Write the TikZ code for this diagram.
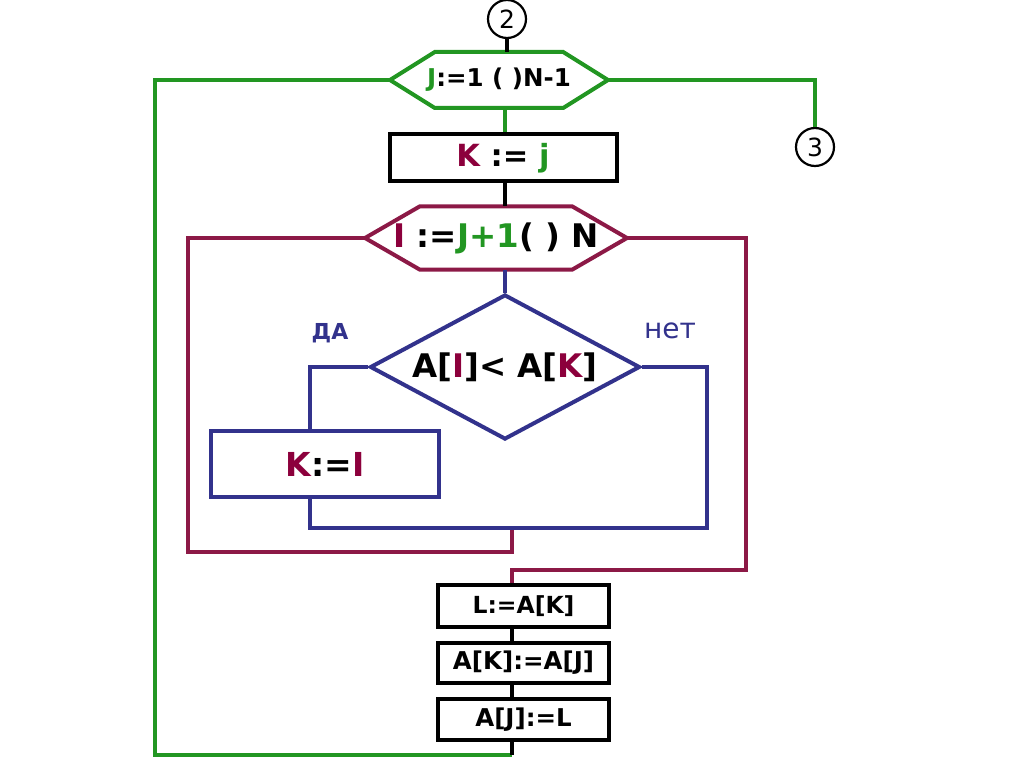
\documentclass[tikz,border=0pt]{standalone}
\usepackage{fontspec}
\setmainfont{DejaVu Sans}
\usetikzlibrary{shapes.geometric, shapes.symbols, calc}
\definecolor{loopgreen}{RGB}{34,150,34}
\definecolor{loopmaroon}{RGB}{140,25,70}
\definecolor{loopnavy}{RGB}{50,50,140}
\definecolor{varred}{RGB}{140,0,60}
\newcommand{\vK}{\textcolor{varred}{K}}
\newcommand{\vI}{\textcolor{varred}{I}}

\begin{document}
\begin{tikzpicture}[x=1pt, y=-1pt,
  hexloop/.style={signal, signal to=west and east, line width=4pt,
                  inner sep=0pt, outer sep=0pt, fill=white},
  assign/.style={rectangle, draw=black, line width=4pt, inner sep=0pt},
  conn/.style={circle, draw=black, line width=2.2pt, minimum size=38pt,
               inner sep=0pt, font=\fontsize{25}{27}\selectfont},
  gline/.style={loopgreen, line width=3.5pt},
  mline/.style={loopmaroon, line width=3.5pt},
  bline/.style={loopnavy, line width=3.5pt},
  kline/.style={black, line width=3.5pt},
]
\useasboundingbox (0,0) rectangle (1024,767);

\node[conn] (c2) at (507,19) {2};
\node[conn] (c3) at (815,147) {3};

\node[hexloop, draw=loopgreen, minimum width=218pt, minimum height=56pt,
      signal pointer angle=64,
      label={[font=\fontsize{24.5}{26}\selectfont\bfseries]center:\textcolor{loopgreen}{J}:=1 ( )N-1}]
  (h1) at (499,80) {};
\node[assign, minimum width=227pt, minimum height=47pt,
      font=\fontsize{30.5}{32}\selectfont\bfseries]
  (k1) at (503,158) {\vK{} := \textcolor{loopgreen}{j}};
\node[hexloop, draw=loopmaroon, minimum width=262pt, minimum height=63pt,
      signal pointer angle=60,
      label={[font=\fontsize{32.5}{34}\selectfont\bfseries]center:\vI{} :=\textcolor{loopgreen}{J+1}( ) N}]
  (h2) at (496,238) {};
\node[diamond, draw=loopnavy, line width=4pt, inner sep=0pt, aspect=1.86,
      minimum width=270pt, minimum height=145pt,
      font=\fontsize{32.5}{34}\selectfont\bfseries]
  (cmp) at (505,367) {A[\vI]< A[\vK]};
\node[assign, draw=loopnavy, minimum width=228pt, minimum height=66pt,
      font=\fontsize{33}{35}\selectfont\bfseries]
  (k2) at (325,464) {\vK:=\vI};

\node[assign, minimum width=171pt, minimum height=42pt,
      font=\fontsize{23.5}{25}\selectfont\bfseries]
  (a1) at (523.5,606) {L:=A[K]};
\node[assign, minimum width=171pt, minimum height=40pt,
      font=\fontsize{24.5}{26}\selectfont\bfseries]
  (a2) at (523.5,663) {A[K]:=A[J]};
\node[assign, minimum width=171pt, minimum height=41pt,
      font=\fontsize{24.5}{26}\selectfont\bfseries]
  (a3) at (523.5,719.5) {A[J]:=L};

\node[text=loopnavy, font=\fontsize{22}{24}\selectfont\bfseries]
  (yes) at (330,333) {ДА};
\node[text=loopnavy, font=\fontsize{28}{30}\selectfont]
  (no) at (670,331) {нет};

\coordinate (gl)  at (155,755);
\coordinate (jb)  at (512,755);
\coordinate (mlb) at (188,552);
\coordinate (mrb) at (746,570);
\coordinate (bj)  at (512,528);
\coordinate (bl)  at (310,528);
\coordinate (br)  at (707,528);

% outer loop
\draw[kline] (c2) -- (c2 |- h1.north);
\draw[gline] (h1.south -| cmp.north) -- (k1.north -| cmp.north);
\draw[gline] (h1.east) -| (c3.north);
\draw[gline] (h1.west) -| (gl) -- (jb);
\draw[kline] (a3.south -| jb) -- (jb);

% inner loop
\draw[kline] (k1.south -| cmp.north) -- (h2.north -| cmp.north);
\draw[bline] (h2.south -| cmp.north) -- (cmp.north);
\draw[mline] (h2.west) -| (mlb) -| (bj);
\draw[mline] (h2.east) -| (mrb) -| (a1.north -| bj);

% branch
\draw[bline] (cmp.west) -| (k2.north -| bl);
\draw[bline] (k2.south -| bl) |- (br) |- (cmp.east);

% swap
\draw[kline] (a1.south -| bj) -- (a2.north -| bj);
\draw[kline] (a2.south -| bj) -- (a3.north -| bj);

\end{tikzpicture}
\end{document}
